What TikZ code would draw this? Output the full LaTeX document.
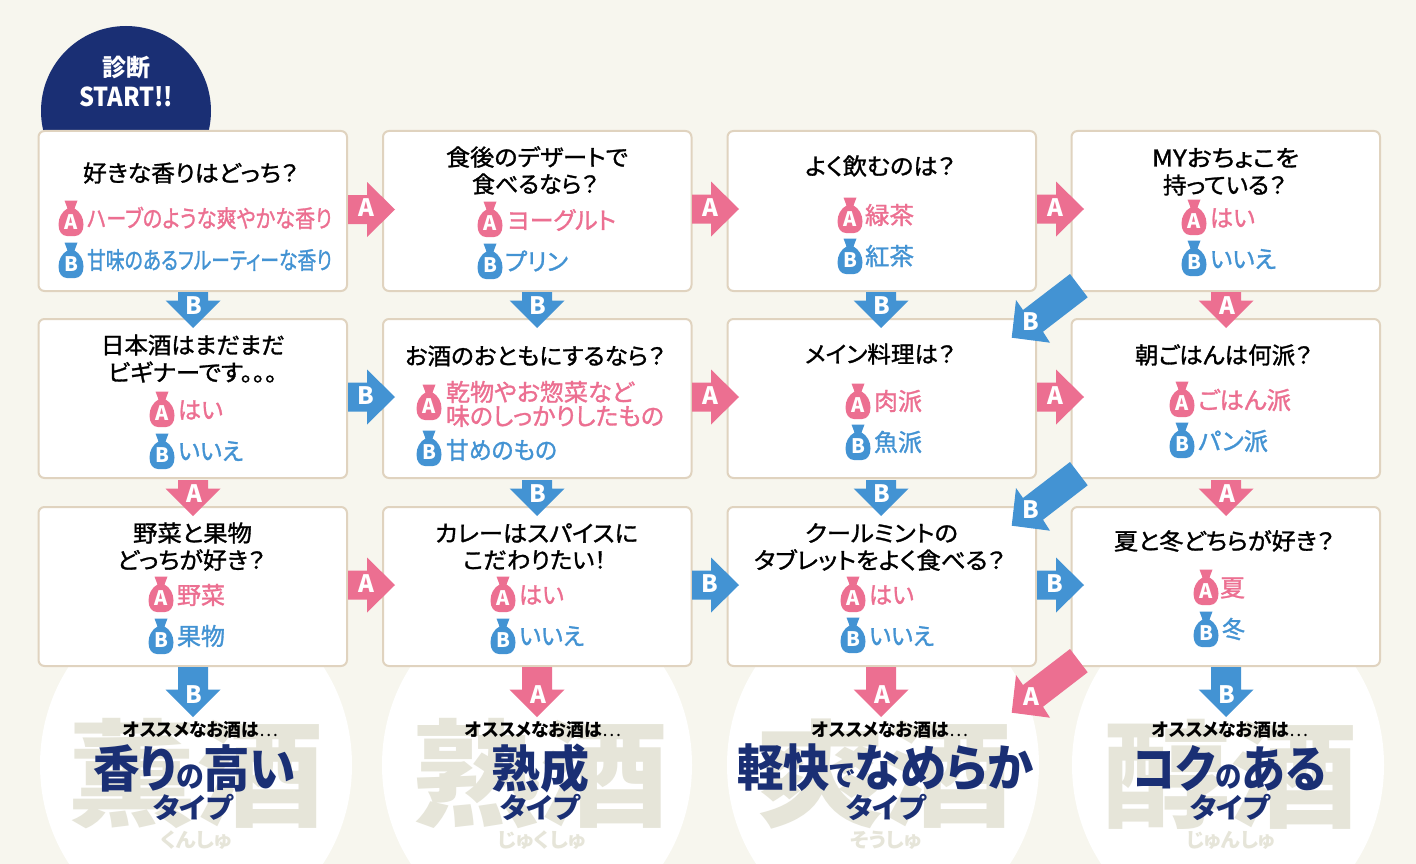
\documentclass[tikz,border=0pt]{standalone}
\usepackage{graphicx}
\usepackage{fontspec}
\setmainfont{Noto Sans CJK JP}[RawFeature=+palt]
\newfontfamily\jpm{Noto Sans CJK JP}[RawFeature=+palt,FakeBold=1.3]
\definecolor{bgc}{HTML}{F7F6EE}
\definecolor{navy}{HTML}{1A2F74}
\definecolor{pinkc}{HTML}{EC6F91}
\definecolor{bluec}{HTML}{4393D3}
\definecolor{edgec}{HTML}{E0D3BF}
\definecolor{graykj}{HTML}{E6E5D9}
\tikzset{
  qbox/.style={draw=edgec,line width=2pt,fill=white,rounded corners=6pt},
  txt/.style={inner sep=0pt,outer sep=0pt,anchor=center},
  ltr/.style={inner sep=0pt,text=white,font=\bfseries\fontsize{24}{24}\selectfont},
  bagltr/.style={inner sep=0pt,text=white,font=\bfseries\fontsize{20}{20}\selectfont},
}
\newsavebox\fitbox
\newcommand\fitw[2]{\sbox\fitbox{#2}\pgfmathsetmacro\fitr{(#1)/\wd\fitbox}\scalebox{\fitr}[1]{\usebox\fitbox}}
% name x1 x2 y size colour text (medium weight)
\newcommand\tx[7]{\node[txt,text=#6] (#1) at ({(#2+#3)/2},#4) {\fitw{#3-#2}{\jpm\fontsize{#5}{#5}\selectfont #7}};}
\newcommand\txb[7]{\node[txt,text=#6] (#1) at ({(#2+#3)/2},#4) {\fitw{#3-#2}{\bfseries\fontsize{#5}{#5}\selectfont #7}};}
% bag: name x y(letter centre) colour letter
\newcommand\bag[5]{%
  \fill[#4,shift={(#2,#3-3.5)}] (-6.5,-18) -- (6.5,-18) -- (3.5,-10)
    .. controls (9,-7) and (12.5,-1) .. (12.5,6) .. controls (12.5,13) and (9,17.5) .. (4,17.5)
    -- (-4,17.5) .. controls (-9,17.5) and (-12.5,13) .. (-12.5,6)
    .. controls (-12.5,-1) and (-9,-7) .. (-3.5,-10) -- cycle;
  \node[bagltr] (#1) at (#2,#3) {#5};}
% right block arrow: name x-start y-centre colour letter
\newcommand\rarrow[5]{%
  \fill[#4,shift={(#2,#3)}] (0,-14.5) -- (19,-14.5) -- (19,-27.5) -- (47,0) -- (19,27.5) -- (19,14.5) -- (0,14.5) -- cycle;
  \node[ltr] (#1) at (#2+18,#3-1.5) {#5};}
% down block arrow: name x-centre y-start length colour letter
\newcommand\darrow[6]{%
  \fill[#5,shift={(#2,#3)}] (-15,0) -- (-15,#4-27.5) -- (-27.5,#4-27.5) -- (0,#4) -- (27.5,#4-27.5) -- (15,#4-27.5) -- (15,0) -- cycle;
  \node[ltr] (#1) at (#2+1,#3+#4-22) {#6};}
% diagonal arrow: name y-shift colour letter
\newcommand\diag[4]{%
  \fill[#3,shift={(0,#2)}] (1070,274) -- (1087.7,297.3) -- (1043,331.7) -- (1050,342.7) -- (1011.7,337.7) -- (1016,300) -- (1023,310) -- cycle;
  \node[ltr] (#1) at (1031,#2+322) {#4};}
\newcommand\osusume{オススメなお酒は{\mdseries ⋯}}
\begin{document}
\begin{tikzpicture}[x=1pt,y=-1pt]
\fill[bgc] (0,0) rectangle (1416,864);
\useasboundingbox (0,0) rectangle (1416,864);
% result discs
\begin{scope}
\clip (0,0) rectangle (1416,864);
\fill[white] (196,765) ellipse [x radius=156,y radius=170];
\fill[white] (537,765) ellipse [x radius=155,y radius=170];
\fill[white] (883,765) ellipse [x radius=156,y radius=170];
\fill[white] (1228,765) ellipse [x radius=156,y radius=170];
\end{scope}
\txb{kj1}{68}{324}{774}{116}{graykj}{薫酒}
\txb{kj2}{412}{669}{774}{116}{graykj}{熟酒}
\txb{kj3}{756}{1012}{774}{116}{graykj}{爽酒}
\txb{kj4}{1102}{1358}{774}{116}{graykj}{醇酒}
\txb{fu1}{160}{232}{840}{20}{graykj}{くんしゅ}
\txb{fu2}{497}{586}{840}{20}{graykj}{じゅくしゅ}
\txb{fu3}{850}{922}{840}{20}{graykj}{そうしゅ}
\txb{fu4}{1186}{1275}{840}{20}{graykj}{じゅんしゅ}
% start
\fill[navy] (126,111) circle [radius=85];
\txb{st1}{102}{150}{67}{24}{white}{診断}
\txb{st2}{79}{173}{97}{26}{white}{START!!}
% boxes
\foreach \xa in {38.5,383,727.5,1071.5}{
  \draw[qbox] (\xa,131) rectangle (\xa+308.5,291);
  \draw[qbox] (\xa,319) rectangle (\xa+308.5,478);
  \draw[qbox] (\xa,507) rectangle (\xa+308.5,666);
}
% row 1
\tx{q11}{83}{298}{173}{23}{black}{好きな香りはどっち？}
\bag{b11a}{71}{222}{pinkc}{A}\tx{t11a}{87}{332}{218}{24}{pinkc}{ハーブのような爽やかな香り}
\bag{b11b}{71}{264}{bluec}{B}\tx{t11b}{87}{332}{260}{24}{bluec}{甘味のあるフルーティーな香り}
\tx{q12a}{446}{628}{157}{23}{black}{食後のデザートで}
\tx{q12b}{472}{598}{184}{23}{black}{食べるなら？}
\bag{b12a}{490}{223}{pinkc}{A}\tx{t12a}{507}{616}{220}{24}{pinkc}{ヨーグルト}
\bag{b12b}{490}{265}{bluec}{B}\tx{t12b}{505}{568}{261}{24}{bluec}{プリン}
\tx{q13}{805}{955}{166}{23}{black}{よく飲むのは？}
\bag{b13a}{850}{219}{pinkc}{A}\tx{t13a}{865}{914}{215}{24}{pinkc}{緑茶}
\bag{b13b}{850}{260}{bluec}{B}\tx{t13b}{865}{914}{256}{24}{bluec}{紅茶}
\tx{q14a}{1152}{1299}{158}{23}{black}{MYおちょこを}
\tx{q14b}{1163}{1286}{185}{23}{black}{持っている？}
\bag{b14a}{1194}{221}{pinkc}{A}\tx{t14a}{1210}{1255}{218}{24}{pinkc}{はい}
\bag{b14b}{1194}{262}{bluec}{B}\tx{t14b}{1210}{1276}{259}{24}{bluec}{いいえ}
% row 2
\tx{q21a}{101}{285}{345}{23}{black}{日本酒はまだまだ}
\tx{q21b}{108}{277}{372}{23}{black}{ビギナーです。。。}
\bag{b21a}{162}{413}{pinkc}{A}\tx{t21a}{178}{223}{410}{24}{pinkc}{はい}
\bag{b21b}{162}{455}{bluec}{B}\tx{t21b}{178}{243}{451}{24}{bluec}{いいえ}
\tx{q22}{405}{665}{356}{23}{black}{お酒のおともにするなら？}
\bag{b22a}{429}{406}{pinkc}{A}\tx{t22a}{446}{634}{392}{24}{pinkc}{乾物やお惣菜など}
\tx{t22c}{446}{664}{416}{24}{pinkc}{味のしっかりしたもの}
\bag{b22b}{429}{452}{bluec}{B}\tx{t22b}{446}{557}{450}{24}{bluec}{甘めのもの}
\tx{q23}{805}{955}{354}{23}{black}{メイン料理は？}
\bag{b23a}{858}{405}{pinkc}{A}\tx{t23a}{874}{922}{401}{24}{pinkc}{肉派}
\bag{b23b}{858}{446}{bluec}{B}\tx{t23b}{874}{922}{442}{24}{bluec}{魚派}
\tx{q24}{1135}{1312}{355}{23}{black}{朝ごはんは何派？}
\bag{b24a}{1182}{403}{pinkc}{A}\tx{t24a}{1198}{1291}{400}{24}{pinkc}{ごはん派}
\bag{b24b}{1182}{444}{bluec}{B}\tx{t24b}{1198}{1268}{441}{24}{bluec}{パン派}
% row 3
\tx{q31a}{133}{252}{533}{23}{black}{野菜と果物}
\tx{q31b}{117}{265}{560}{23}{black}{どっちが好き？}
\bag{b31a}{161}{598}{pinkc}{A}\tx{t31a}{177}{225}{595}{24}{pinkc}{野菜}
\bag{b31b}{161}{640}{bluec}{B}\tx{t31b}{177}{225}{636}{24}{bluec}{果物}
\tx{q32a}{435}{638}{533}{23}{black}{カレーはスパイスに}
\tx{q32b}{463}{606}{560}{23}{black}{こだわりたい！}
\bag{b32a}{503}{598}{pinkc}{A}\tx{t32a}{519}{564}{595}{24}{pinkc}{はい}
\bag{b32b}{503}{640}{bluec}{B}\tx{t32b}{519}{584}{636}{24}{bluec}{いいえ}
\tx{q33a}{805}{958}{533}{23}{black}{クールミントの}
\tx{q33b}{754}{1005}{560}{23}{black}{タブレットをよく食べる？}
\bag{b33a}{853}{598}{pinkc}{A}\tx{t33a}{869}{914}{595}{24}{pinkc}{はい}
\bag{b33b}{853}{639}{bluec}{B}\tx{t33b}{869}{934}{636}{24}{bluec}{いいえ}
\tx{q34}{1114}{1334}{541}{23}{black}{夏と冬どちらが好き？}
\bag{b34a}{1206}{591}{pinkc}{A}\tx{t34a}{1220}{1245}{588}{24}{pinkc}{夏}
\bag{b34b}{1206}{633}{bluec}{B}\tx{t34b}{1222}{1245}{629}{24}{bluec}{冬}
% arrows right
\rarrow{r11}{348}{209.5}{pinkc}{A}
\rarrow{r12}{692}{209}{pinkc}{A}
\rarrow{r13}{1037}{209}{pinkc}{A}
\rarrow{r21}{348}{397}{bluec}{B}
\rarrow{r22}{692}{397}{pinkc}{A}
\rarrow{r23}{1037}{397}{pinkc}{A}
\rarrow{r31}{348}{585}{pinkc}{A}
\rarrow{r32}{692}{585}{bluec}{B}
\rarrow{r33}{1037}{585}{bluec}{B}
% arrows down
\darrow{d11}{193}{292}{36}{bluec}{B}
\darrow{d12}{537}{292}{36}{bluec}{B}
\darrow{d13}{881}{292}{36}{bluec}{B}
\darrow{d14}{1226}{292}{36}{pinkc}{A}
\darrow{d21}{193}{480}{36}{pinkc}{A}
\darrow{d22}{537}{480}{36}{bluec}{B}
\darrow{d23}{881}{480}{36}{bluec}{B}
\darrow{d24}{1226}{480}{36}{pinkc}{A}
\darrow{d31}{193}{667}{50}{bluec}{B}
\darrow{d32}{537}{667}{50}{pinkc}{A}
\darrow{d33}{881}{667}{50}{pinkc}{A}
\darrow{d34}{1226}{667}{50}{bluec}{B}
% diagonal
\diag{g1}{0}{bluec}{B}
\diag{g2}{188}{bluec}{B}
\diag{g3}{375}{pinkc}{A}
% results
\txb{o1}{123}{278}{730}{18}{black}{\osusume}
\txb{o2}{465}{621}{730}{18}{black}{\osusume}
\txb{o3}{812}{968}{730}{18}{black}{\osusume}
\txb{o4}{1152}{1308}{730}{18}{black}{\osusume}
\txb{n1}{93}{296}{768}{50}{navy}{香り{\fontsize{30}{30}\selectfont の}高い}
\txb{n2}{491}{589}{768}{50}{navy}{熟成}
\txb{n3}{737}{1033}{768}{50}{navy}{軽快{\fontsize{30}{30}\selectfont で}なめらか}
\txb{n4}{1133}{1326}{768}{50}{navy}{コク{\fontsize{30}{30}\selectfont の}ある}
\txb{ty1}{153}{233}{807}{28}{navy}{タイプ}
\txb{ty2}{500}{580}{807}{28}{navy}{タイプ}
\txb{ty3}{846}{926}{807}{28}{navy}{タイプ}
\txb{ty4}{1190}{1270}{807}{28}{navy}{タイプ}
\end{tikzpicture}
\end{document}
